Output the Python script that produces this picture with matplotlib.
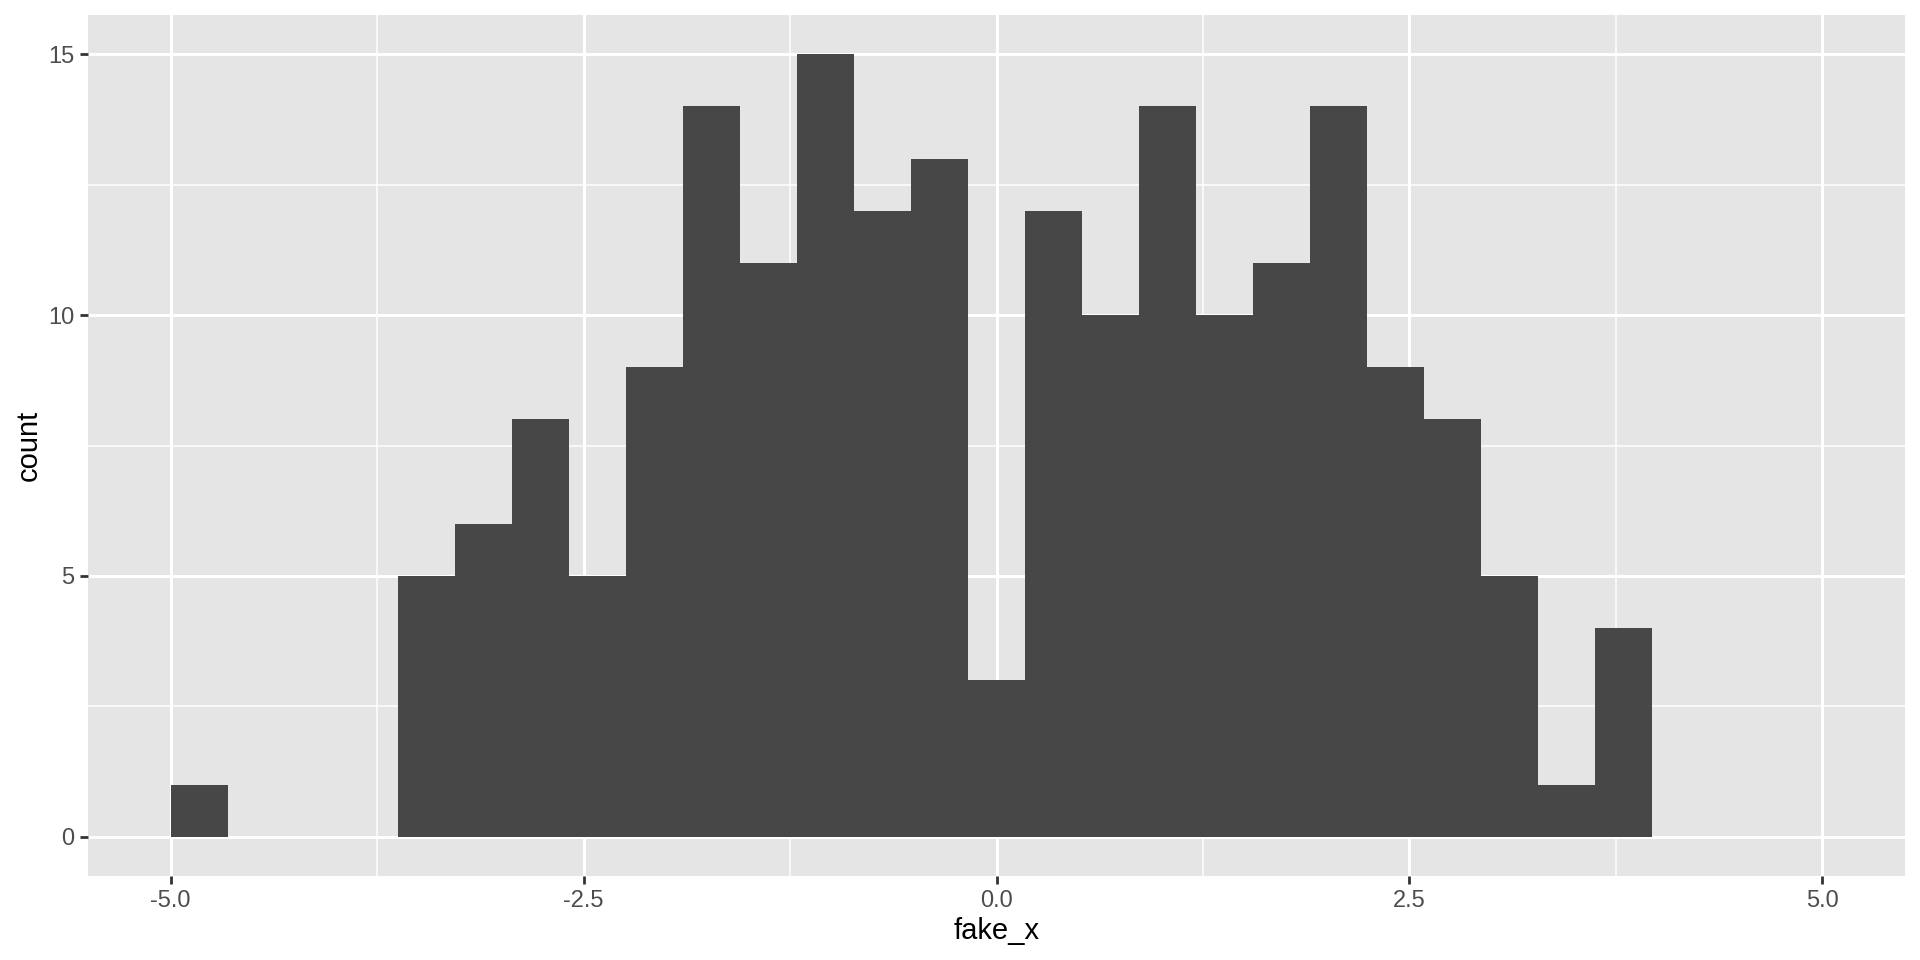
import numpy as np, matplotlib
matplotlib.use('Agg')
import matplotlib.pyplot as plt
from matplotlib.ticker import MultipleLocator

plt.rcParams['font.family'] = ['Liberation Sans', 'DejaVu Sans']

# histogram of fake_x: 26 bins of width 10/29 starting at -5
bin_start = -5.0
bin_width = 10 / 29
counts = [1, 0, 0, 0, 5, 6, 8, 5, 9, 14, 11, 15, 12, 13, 3,
          12, 10, 14, 10, 11, 14, 9, 8, 5, 1, 4]
x_ticks = [-5.0, -2.5, 0.0, 2.5, 5.0]
x_labels = ['-5.0', '-2.5', '0.0', '2.5', '5.0']
y_ticks = [0, 5, 10, 15]

lefts = bin_start + bin_width * np.arange(len(counts))

fig = plt.figure(figsize=(19.2, 9.6), dpi=100)
ax = fig.add_axes([88/1920, 1 - 876/960, (1905 - 88)/1920, (876 - 15)/960])
ax.set_facecolor('#e5e5e5')
for s in ax.spines.values():
    s.set_visible(False)

ax.bar(lefts, counts, width=bin_width, align='edge', color='#474747', lw=0, zorder=3)

ax.set_xlim(-5.5, 5.5)
ax.set_ylim(-0.75, 15.75)
ax.set_xticks(x_ticks)
ax.set_xticklabels(x_labels)
ax.set_yticks(y_ticks)
ax.xaxis.set_minor_locator(MultipleLocator(1.25))
ax.yaxis.set_minor_locator(MultipleLocator(2.5))
ax.grid(which='major', color='white', lw=2.2, zorder=1)
ax.grid(which='minor', color='white', lw=1.1, zorder=1)
ax.set_axisbelow(True)
ax.tick_params(which='major', length=6, width=2, color='#333333',
               labelsize=17, labelcolor='#4d4d4d', pad=4)
ax.tick_params(which='minor', length=0)

ax.set_xlabel('fake_x', fontsize=21, color='black', labelpad=4)
ax.set_ylabel('count', fontsize=21, color='black', labelpad=4)

fig.savefig('out.png', dpi=100)
